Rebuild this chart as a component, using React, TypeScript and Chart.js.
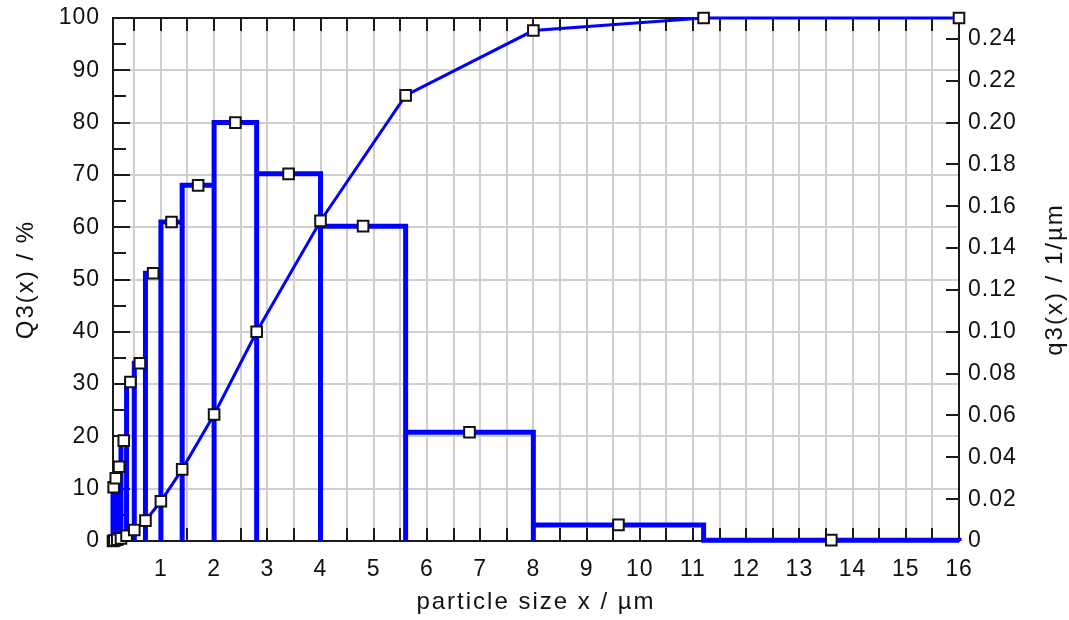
import React, { useEffect, useRef } from 'react';
import { Chart, registerables } from 'chart.js';

Chart.register(...registerables);

// Sieve class bounds (µm)
const classBounds = [0.1, 0.125, 0.18, 0.25, 0.355, 0.5, 0.71, 1, 1.4, 2, 2.8, 4, 5.6, 8, 11.2, 16];
// Cumulative distribution Q3 (%) at each class bound
const cumulativeQ3 = [0, 0.1, 0.25, 0.5, 1.0, 2.1, 3.9, 7.6, 13.7, 24.2, 40.0, 61.2, 85.2, 97.6, 100, 100];
// Density distribution q3 (1/µm) per class
const densityQ3 = [0.0257, 0.03, 0.0355, 0.048, 0.076, 0.085, 0.128, 0.1525, 0.17, 0.2, 0.1755, 0.1505, 0.052, 0.0077, 0.0004];

const xTickValues = [0.5, 1, 1.5, 2, 2.5, 3, 3.5, 4, 4.5, 5, 5.5, 6, 6.5, 7, 7.5, 8, 8.5, 9, 9.5, 10, 10.5, 11, 11.5, 12, 12.5, 13, 13.5, 14, 14.5, 15, 15.5, 16];
const leftTickValues = [0, 5, 10, 15, 20, 25, 30, 35, 40, 45, 50, 55, 60, 65, 70, 75, 80, 85, 90, 95, 100];
const rightTickValues = [0, 0.02, 0.04, 0.06, 0.08, 0.1, 0.12, 0.14, 0.16, 0.18, 0.2, 0.22, 0.24];

const xTitle = 'particle size x / µm';
const leftTitle = 'Q3(x) / %';
const rightTitle = 'q3(x) / 1/µm';

const BLUE = '#0000ff';
const GRID = '#cfcfcf';
const FONT_FAMILY = "'Liberation Sans', Arial, Helvetica, sans-serif";

const framePlugin = {
  id: 'framePlugin',
  beforeLayout(chart: any) {
    chart.ctx.letterSpacing = '1px';
  },
  beforeDraw(chart: any) {
    chart.ctx.letterSpacing = '1px';
  },
  beforeDatasetsDraw(chart: any) {
    const { ctx, chartArea: a, scales } = chart;
    ctx.save();
    ctx.strokeStyle = '#1a1a1a';
    ctx.lineWidth = 2;
    ctx.strokeRect(a.left, a.top, a.right - a.left, a.bottom - a.top);
    ctx.beginPath();
    for (const v of xTickValues) {
      const px = Math.round(scales.x.getPixelForValue(v));
      ctx.moveTo(px, a.bottom);
      ctx.lineTo(px, a.bottom - 13);
      ctx.moveTo(px, a.top);
      ctx.lineTo(px, a.top + 13);
    }
    for (const v of leftTickValues) {
      const py = Math.round(scales.y.getPixelForValue(v));
      const len = v % 10 === 0 ? 17 : 13;
      ctx.moveTo(a.left, py);
      ctx.lineTo(a.left + len, py);
    }
    for (const v of rightTickValues) {
      const py = Math.round(scales.y2.getPixelForValue(v));
      ctx.moveTo(a.right, py);
      ctx.lineTo(a.right - 13, py);
    }
    ctx.stroke();
    ctx.restore();
  },
  afterDraw(chart: any) {
    const { ctx, chartArea: a } = chart;
    const cy = (a.top + a.bottom) / 2;
    ctx.save();
    ctx.letterSpacing = '2px';
    ctx.fillStyle = '#111';
    ctx.font = `24px ${FONT_FAMILY}`;
    ctx.textAlign = 'center';
    ctx.textBaseline = 'alphabetic';
    ctx.fillText(xTitle, (a.left + a.right) / 2, 609);
    ctx.save();
    ctx.translate(33, cy);
    ctx.rotate(-Math.PI / 2);
    ctx.fillText(leftTitle, 0, 0);
    ctx.restore();
    ctx.save();
    ctx.translate(1062, cy);
    ctx.rotate(-Math.PI / 2);
    ctx.fillText(rightTitle, 0, 0);
    ctx.restore();
    ctx.restore();
  },
};

export default function App() {
  const canvasRef = useRef<HTMLCanvasElement | null>(null);

  useEffect(() => {
    document.body.style.margin = '0';
    const canvas = canvasRef.current;
    if (!canvas) return;

    const histPoints: { x: number; y: number }[] = [];
    for (let i = 0; i < densityQ3.length; i++) {
      const lo = classBounds[i];
      const hi = classBounds[i + 1];
      histPoints.push({ x: lo, y: 0 }, { x: lo, y: densityQ3[i] }, { x: hi, y: densityQ3[i] }, { x: hi, y: 0 });
    }
    const cumPoints = classBounds.map((b, i) => ({ x: b, y: cumulativeQ3[i] }));
    const densPoints = densityQ3.map((q, i) => ({ x: (classBounds[i] + classBounds[i + 1]) / 2, y: q }));

    const tickFont = { family: FONT_FAMILY, size: 23 };

    const chart = new Chart(canvas, {
      type: 'scatter',
      data: {
        datasets: [
          {
            data: densPoints,
            showLine: false,
            pointStyle: 'rect',
            pointRadius: 7.5,
            pointBackgroundColor: '#ffffff',
            pointBorderColor: '#111111',
            pointBorderWidth: 2,
            yAxisID: 'y2',
            clip: false,
            order: 1,
          },
          {
            data: cumPoints,
            showLine: true,
            borderColor: BLUE,
            borderWidth: 3,
            pointStyle: 'rect',
            pointRadius: 7.5,
            pointBackgroundColor: '#ffffff',
            pointBorderColor: '#111111',
            pointBorderWidth: 2,
            yAxisID: 'y',
            clip: false,
            order: 2,
          },
          {
            data: histPoints,
            showLine: true,
            borderColor: BLUE,
            borderWidth: 5,
            borderJoinStyle: 'miter',
            pointRadius: 0,
            yAxisID: 'y2',
            clip: false,
            order: 3,
          },
        ] as any,
      },
      options: {
        animation: false,
        responsive: false,
        devicePixelRatio: 1,
        events: [],
        layout: { padding: { top: 18, left: 0, right: 0, bottom: 0 } },
        plugins: { legend: { display: false }, tooltip: { enabled: false }, title: { display: false } },
        scales: {
          x: {
            type: 'linear',
            min: 0.1,
            max: 16,
            afterBuildTicks: (s: any) => {
              s.ticks = xTickValues.map((v) => ({ value: v }));
            },
            afterFit: (s: any) => {
              s.height = 79;
              s.paddingLeft = 0;
              s.paddingRight = 0;
            },
            grid: { color: GRID, lineWidth: 2, drawTicks: false },
            border: { display: false },
            ticks: {
              autoSkip: false,
              maxRotation: 0,
              minRotation: 0,
              padding: 15,
              color: '#111',
              font: tickFont,
              callback: (v: any) => (Number.isInteger(v) ? String(v) : ''),
            },
          },
          y: {
            type: 'linear',
            position: 'left',
            min: 0,
            max: 100,
            afterBuildTicks: (s: any) => {
              s.ticks = leftTickValues.map((v) => ({ value: v }));
            },
            afterFit: (s: any) => {
              s.width = 113;
              s.paddingTop = 0;
              s.paddingBottom = 0;
            },
            grid: {
              color: (c: any) => (c.tick && c.tick.value % 10 === 0 ? GRID : 'rgba(0,0,0,0)'),
              lineWidth: 2,
              drawTicks: false,
            },
            border: { display: false },
            ticks: {
              autoSkip: false,
              padding: 13,
              color: '#111',
              font: tickFont,
              callback: (v: any) => (v % 10 === 0 ? String(v) : ''),
            },
          },
          y2: {
            type: 'linear',
            position: 'right',
            min: 0,
            max: 0.25,
            afterBuildTicks: (s: any) => {
              s.ticks = rightTickValues.map((v) => ({ value: v }));
            },
            afterFit: (s: any) => {
              s.width = 110;
              s.paddingTop = 0;
              s.paddingBottom = 0;
            },
            grid: { drawOnChartArea: false, drawTicks: false },
            border: { display: false },
            ticks: {
              autoSkip: false,
              padding: 9,
              color: '#111',
              font: tickFont,
              callback: (v: any) => (v === 0 ? '0' : Number(v).toFixed(2)),
            },
          },
        },
      } as any,
      plugins: [framePlugin],
    });

    return () => {
      chart.destroy();
    };
  }, []);

  return (
    <div style={{ width: 1069, height: 620, background: '#ffffff' }}>
      <canvas ref={canvasRef} width={1069} height={620} style={{ display: 'block', width: 1069, height: 620 }} />
    </div>
  );
}
